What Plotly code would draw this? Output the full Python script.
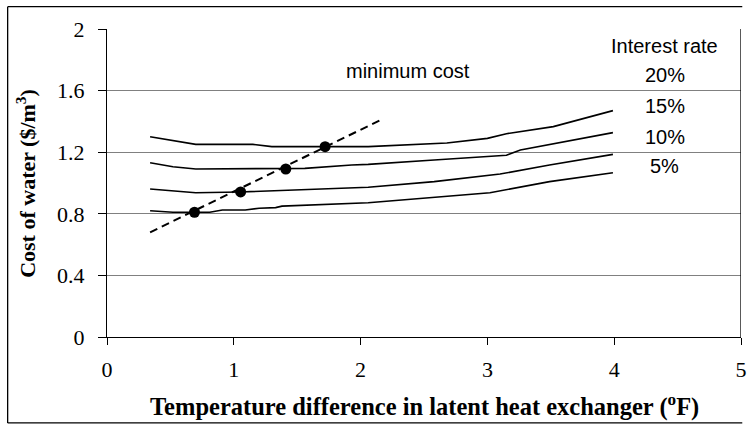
import plotly.graph_objects as go

# Temperature difference (F) and cost of water ($/m3) for each interest rate
x_20 = [0.34, 0.70, 1.15, 1.30, 1.72, 2.06, 2.68, 3.00, 3.15, 3.52, 3.99]
y_20 = [1.30, 1.251, 1.251, 1.236, 1.236, 1.236, 1.26, 1.29, 1.32, 1.366, 1.47]

x_15 = [0.34, 0.52, 0.70, 1.41, 1.56, 1.93, 2.06, 2.58, 3.15, 3.26, 3.99]
y_15 = [1.132, 1.106, 1.091, 1.091, 1.095, 1.117, 1.121, 1.149, 1.18, 1.214, 1.327]

x_10 = [0.34, 0.70, 1.05, 1.48, 2.06, 2.58, 3.10, 3.49, 3.99]
y_10 = [0.961, 0.937, 0.942, 0.955, 0.972, 1.009, 1.058, 1.117, 1.186]

x_5 = [0.34, 0.52, 0.81, 0.91, 1.09, 1.20, 1.33, 1.38, 2.06, 2.50, 3.02, 3.49, 3.99]
y_5 = [0.820, 0.81, 0.81, 0.825, 0.825, 0.836, 0.840, 0.85, 0.872, 0.90, 0.937, 1.009, 1.067]

# minimum-cost points and the dashed trend through them
min_x = [0.69, 1.054, 1.41, 1.72]
min_y = [0.81, 0.942, 1.091, 1.236]
trend_x = [0.34, 2.16]
trend_y = [0.68, 1.41]

rate_labels = ["20%", "15%", "10%", "5%"]
x_ticks = [0, 1, 2, 3, 4, 5]
y_ticks = [0, 0.4, 0.8, 1.2, 1.6, 2]

fig = go.Figure()
for xs, ys in [(x_20, y_20), (x_15, y_15), (x_10, y_10), (x_5, y_5)]:
    fig.add_trace(go.Scatter(x=xs, y=ys, mode="lines",
                             line=dict(color="black", width=1.6),
                             showlegend=False, hoverinfo="skip"))
fig.add_trace(go.Scatter(x=trend_x, y=trend_y, mode="lines",
                         line=dict(color="black", width=2, dash="8px,5px"),
                         showlegend=False))
fig.add_trace(go.Scatter(x=min_x, y=min_y, mode="markers",
                         marker=dict(color="black", size=11),
                         showlegend=False))

serif = "Liberation Serif, Times New Roman, serif"
sans = "Liberation Sans, Arial, sans-serif"

fig.update_layout(
    width=749, height=425,
    margin=dict(l=107, r=2, t=29, b=88),
    paper_bgcolor="white", plot_bgcolor="white",
    xaxis=dict(range=[0, 5], tickvals=x_ticks, ticktext=[str(v) for v in x_ticks],
               showgrid=False, zeroline=False, showline=True, linecolor="black",
               linewidth=1.3, ticks="outside", ticklen=7, tickcolor="black",
               tickfont=dict(family=serif, size=22, color="black"),
               ticklabelstandoff=5, ticklabeloverflow="allow"),
    yaxis=dict(range=[0, 2], tickvals=y_ticks,
               ticktext=["0", "0.4", "0.8", "1.2", "1.6", "2"],
               showgrid=True, gridcolor="#808080", gridwidth=1,
               zeroline=False, showline=True, linecolor="black",
               linewidth=1.3, ticks="outside", ticklen=8, tickcolor="black",
               tickfont=dict(family=serif, size=22, color="black"),
               ticklabelstandoff=9),
)

# right edge at x=5
fig.add_shape(type="line", xref="x", yref="y", x0=5, x1=5, y0=0, y1=2,
              line=dict(color="black", width=1.3))

# outer frame (left, top, bottom)
L, R, T, B = -0.1567, 1.002, 1.0724, -0.279
for x0, y0, x1, y1 in [(L, B, L, T), (L, T, R, T), (L, B, R, B)]:
    fig.add_shape(type="line", xref="paper", yref="paper",
                  x0=x0, y0=y0, x1=x1, y1=y1,
                  line=dict(color="black", width=1.3))

fig.add_annotation(x=-0.128, y=0.5, xref="paper", yref="paper",
                   xanchor="center", yanchor="middle",
                   text="<b>Cost of water ($/m<sup>3</sup>)</b>",
                   textangle=-90, showarrow=False,
                   font=dict(family=serif, size=22, color="black"))
fig.add_annotation(x=0.5, y=-0.221, xref="paper", yref="paper",
                   xanchor="center", yanchor="middle",
                   text="<b>Temperature difference in latent heat exchanger (<sup>o</sup>F)</b>",
                   showarrow=False,
                   font=dict(family=serif, size=24.5, color="black"))

fig.add_annotation(x=2.37, y=1.727, text="minimum cost", showarrow=False,
                   font=dict(family=sans, size=20, color="black"))
fig.add_annotation(x=4.40, y=1.889, text="Interest rate", showarrow=False,
                   font=dict(family=sans, size=20, color="black"))
for lab, yv in zip(rate_labels, [1.70, 1.50, 1.30, 1.11]):
    fig.add_annotation(x=4.40, y=yv, text=lab, showarrow=False,
                       font=dict(family=sans, size=20, color="black"))

fig.write_html("out.html")
